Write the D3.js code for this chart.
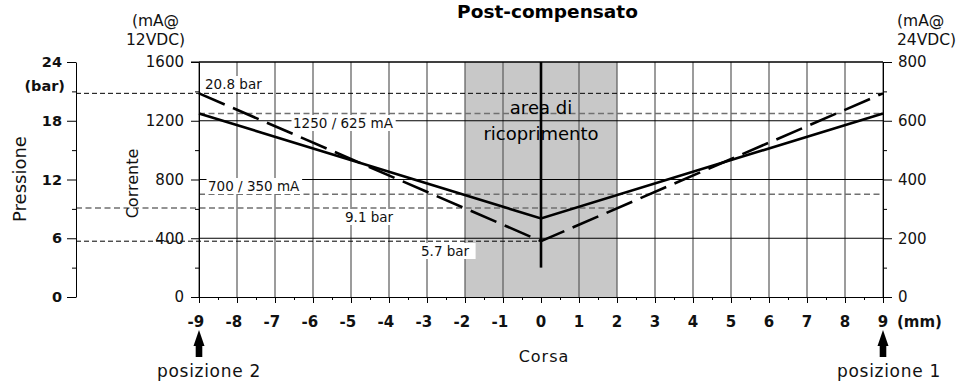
<!DOCTYPE html>
<html>
<head>
<meta charset="utf-8">
<script src="https://cdn.jsdelivr.net/npm/d3@7"></script>
<style>
  html, body { margin: 0; padding: 0; background: #fff; }
  svg { display: block; font-family: "DejaVu Sans", Verdana, sans-serif; }
</style>
</head>
<body>
<svg id="chart" width="958" height="381"></svg>
<script>
// Stroke positions (mm) and the two characteristic curves
const corsa = [-9, 0, 9];
const correnteMA = [1250, 535, 1250];      // current @12VDC (solid)
const pressioneBar = [20.8, 5.7, 20.8];    // pressure (dashed)

// Axis ticks
const corsaTicks = d3.range(-9, 10);
const corsaMinor = d3.range(-8.5, 9, 1);
const correnteTicks = [0, 400, 800, 1200, 1600];
const correnteMinor = [200, 600, 1000, 1400];
const pressioneTicks = [0, 6, 12, 18, 24];
const pressioneMinor = [3, 9, 15, 21];
const corrente24Ticks = [0, 200, 400, 600, 800];
const corrente24Minor = [100, 300, 500, 700];

// Overlap band (mm)
const overlapBand = [-2, 2];

// Reference levels
const refLabels = ["20.8 bar", "1250 / 625 mA", "700 / 350 mA", "9.1 bar", "5.7 bar"];
const refValues = [20.8, 1250, 700, 9.1, 5.7];
const refUnits  = ["bar", "mA", "mA", "bar", "bar"];

const svg = d3.select("#chart");
const FONT = '"DejaVu Sans", Verdana, sans-serif';
const fmt = d3.format("d");

const x = d3.scaleLinear().domain([-9, 9]).range([199, 883]);
const yI = d3.scaleLinear().domain([0, 1600]).range([297, 62]);
const yP = d3.scaleLinear().domain([0, 24]).range([297, 62]);
const yI24 = d3.scaleLinear().domain([0, 800]).range([297, 62]);

const yTop = yI(1600), yBottom = yI(0);

// overlap area
svg.append("rect")
  .attr("x", x(overlapBand[0])).attr("y", yTop)
  .attr("width", x(overlapBand[1]) - x(overlapBand[0]))
  .attr("height", yBottom - yTop)
  .attr("fill", "#c8c8c8");

// vertical grid
svg.append("g").selectAll("line")
  .data(corsaTicks.filter(d => d !== 0))
  .join("line")
  .attr("x1", d => x(d)).attr("x2", d => x(d))
  .attr("y1", yTop).attr("y2", yBottom)
  .attr("stroke", "#5a5a5a").attr("stroke-width", 1.2);

// horizontal grid
svg.append("g").selectAll("line")
  .data(correnteTicks.filter(d => d > 0))
  .join("line")
  .attr("x1", x(-9)).attr("x2", x(9))
  .attr("y1", d => yI(d)).attr("y2", d => yI(d))
  .attr("stroke", "#000").attr("stroke-width", 1);

// reference dashed levels
const pressAxisX = 76;
const refExtent = [
  [pressAxisX, x(9)],
  [x(-9), x(9)],
  [x(-9), x(9)],
  [pressAxisX, x(2)],
  [pressAxisX, x(0)]
];
refValues.forEach((v, i) => {
  const yy = refUnits[i] === "bar" ? yP(v) : yI(v);
  const dark = (i === 0 || i === 4);
  svg.append("line")
    .attr("x1", refExtent[i][0]).attr("x2", refExtent[i][1])
    .attr("y1", yy).attr("y2", yy)
    .attr("stroke", dark ? "#000" : "#707070")
    .attr("stroke-width", dark ? 1 : 1.5)
    .attr("stroke-dasharray", dark ? "5,3" : "6,3.5");
});

// curves
const pts = corsa.map((c, i) => ({ c, i }));
svg.append("path")
  .datum(pts)
  .attr("d", d3.line().x(d => x(d.c)).y(d => yI(correnteMA[d.i])))
  .attr("fill", "none").attr("stroke", "#000").attr("stroke-width", 2.6);

svg.append("path")
  .datum(pts)
  .attr("d", d3.line().x(d => x(d.c)).y(d => yP(pressioneBar[d.i])))
  .attr("fill", "none").attr("stroke", "#000").attr("stroke-width", 2.6)
  .attr("stroke-dasharray", "28,9");

// centre line
svg.append("line")
  .attr("x1", x(0)).attr("x2", x(0))
  .attr("y1", yTop).attr("y2", yI(200))
  .attr("stroke", "#000").attr("stroke-width", 2.6);

// reference labels on white boxes
const labelPos = [
  [205, 89], [293, 128], [208, 191], [345, 222], [421, 256]
];
const labelPadR = [2, 2, 2, 2, 6];
refLabels.forEach((t, i) => {
  const g = svg.append("g");
  const txt = g.append("text")
    .attr("x", labelPos[i][0]).attr("y", labelPos[i][1])
    .attr("font-size", 13.5).attr("fill", "#111").text(t);
  const b = txt.node().getBBox();
  g.insert("rect", "text")
    .attr("x", b.x - 1.5).attr("y", b.y)
    .attr("width", b.width + 1.5 + labelPadR[i]).attr("height", b.height)
    .attr("fill", "#fff");
});

// area label
svg.append("text").attr("x", x(0)).attr("y", 114)
  .attr("text-anchor", "middle").attr("font-size", 18).text("area di");
svg.append("text").attr("x", x(0)).attr("y", 140)
  .attr("text-anchor", "middle").attr("font-size", 18).text("ricoprimento");

// --- axes ---
function styleAxis(g) {
  g.attr("font-family", FONT);
  g.selectAll("line").attr("stroke", "#000");
  g.selectAll("path").attr("stroke", "#000");
}

// current @12VDC (left of plot)
const axI = svg.append("g").attr("transform", `translate(${x(-9)},0)`)
  .call(d3.axisLeft(yI).tickValues(correnteTicks).tickFormat(fmt)
    .tickSize(8).tickSizeOuter(0).tickPadding(7));
axI.selectAll("text").attr("font-size", 15).attr("fill", "#111");
styleAxis(axI);
svg.append("g").attr("transform", `translate(${x(-9)},0)`)
  .call(d3.axisLeft(yI).tickValues(correnteMinor).tickSize(4).tickFormat(""))
  .call(g => g.select(".domain").remove()).call(styleAxis);

// pressure axis
const axP = svg.append("g").attr("transform", `translate(${pressAxisX},0)`)
  .call(d3.axisLeft(yP).tickValues(pressioneTicks).tickFormat(fmt)
    .tickSize(9).tickSizeOuter(0).tickPadding(5));
axP.selectAll("text").attr("font-size", 14.5).attr("font-weight", "bold").attr("fill", "#111");
styleAxis(axP);
svg.append("g").attr("transform", `translate(${pressAxisX},0)`)
  .call(d3.axisLeft(yP).tickValues(pressioneMinor).tickSize(4).tickFormat(""))
  .call(g => g.select(".domain").remove()).call(styleAxis);
svg.append("text")
  .attr("x", 65).attr("y", yP(21))
  .attr("text-anchor", "end").attr("font-size", 14.5).attr("font-weight", "bold")
  .attr("fill", "#111").text("(bar)");

// current @24VDC (right of plot)
const axR = svg.append("g").attr("transform", `translate(${x(9)},0)`)
  .call(d3.axisRight(yI24).tickValues(corrente24Ticks).tickFormat(fmt)
    .tickSize(9).tickSizeOuter(0).tickPadding(6));
axR.selectAll("text").attr("font-size", 15).attr("fill", "#111");
styleAxis(axR);
svg.append("g").attr("transform", `translate(${x(9)},0)`)
  .call(d3.axisRight(yI24).tickValues(corrente24Minor).tickSize(4).tickFormat(""))
  .call(g => g.select(".domain").remove()).call(styleAxis);

// top border
svg.append("line").attr("x1", x(-9) - 8).attr("x2", x(9))
  .attr("y1", yTop).attr("y2", yTop).attr("stroke", "#000");

// stroke axis
const axX = svg.append("g").attr("transform", `translate(0,${yBottom})`)
  .call(d3.axisBottom(x).tickValues(corsaTicks).tickSize(6).tickSizeOuter(0).tickFormat(""));
styleAxis(axX);
svg.append("g").attr("transform", `translate(0,${yBottom})`)
  .call(d3.axisBottom(x).tickValues(corsaMinor).tickSize(3).tickFormat(""))
  .call(g => g.select(".domain").remove()).call(styleAxis);
svg.append("g").selectAll("text")
  .data(corsaTicks).join("text")
  .attr("x", d => x(d) + 5.2).attr("y", 327)
  .attr("text-anchor", "end").attr("font-size", 15).attr("font-weight", "bold")
  .attr("fill", "#111").text(d => String(d));
svg.append("text").attr("x", 897).attr("y", 327)
  .attr("font-size", 15).attr("font-weight", "bold").attr("fill", "#111").text("(mm)");

// units above the current axes
[["(mA@", 25.5], ["12VDC)", 44.5]].forEach(([t, yy]) =>
  svg.append("text").attr("x", 155.5).attr("y", yy).attr("text-anchor", "middle")
    .attr("font-size", 15.5).attr("fill", "#111").text(t));
[["(mA@", 25.5], ["24VDC)", 44.5]].forEach(([t, yy]) =>
  svg.append("text").attr("x", 897).attr("y", yy)
    .attr("font-size", 15.5).attr("fill", "#111").text(t));

// titles
svg.append("text").attr("x", 547.5).attr("y", 18).attr("text-anchor", "middle")
  .attr("font-size", 18.5).attr("font-weight", "bold").attr("fill", "#000").text("Post-compensato");
svg.append("text").attr("transform", "translate(26,179) rotate(-90)")
  .attr("text-anchor", "middle").attr("font-size", 18).attr("fill", "#111").text("Pressione");
svg.append("text").attr("transform", "translate(138,183.5) rotate(-90)")
  .attr("text-anchor", "middle").attr("font-size", 16).attr("fill", "#111").text("Corrente");
svg.append("text").attr("x", 544).attr("y", 361.5).attr("text-anchor", "middle")
  .attr("font-size", 16).attr("letter-spacing", 1).attr("fill", "#111").text("Corsa");

// position arrows
function arrow(cx) {
  const p = [[cx, 330], [cx + 5.5, 346], [cx + 3.3, 346], [cx + 3.3, 357],
             [cx - 3.3, 357], [cx - 3.3, 346], [cx - 5.5, 346]];
  svg.append("polygon").attr("points", p.map(q => q.join(",")).join(" ")).attr("fill", "#000");
}
arrow(x(-9));
arrow(x(9));
svg.append("text").attr("x", x(-9) - 42).attr("y", 377)
  .attr("font-size", 17).attr("letter-spacing", 0.7).attr("fill", "#111").text("posizione 2");
svg.append("text").attr("x", x(9) - 46).attr("y", 377)
  .attr("font-size", 17).attr("letter-spacing", 0.7).attr("fill", "#111").text("posizione 1");
</script>
</body>
</html>
